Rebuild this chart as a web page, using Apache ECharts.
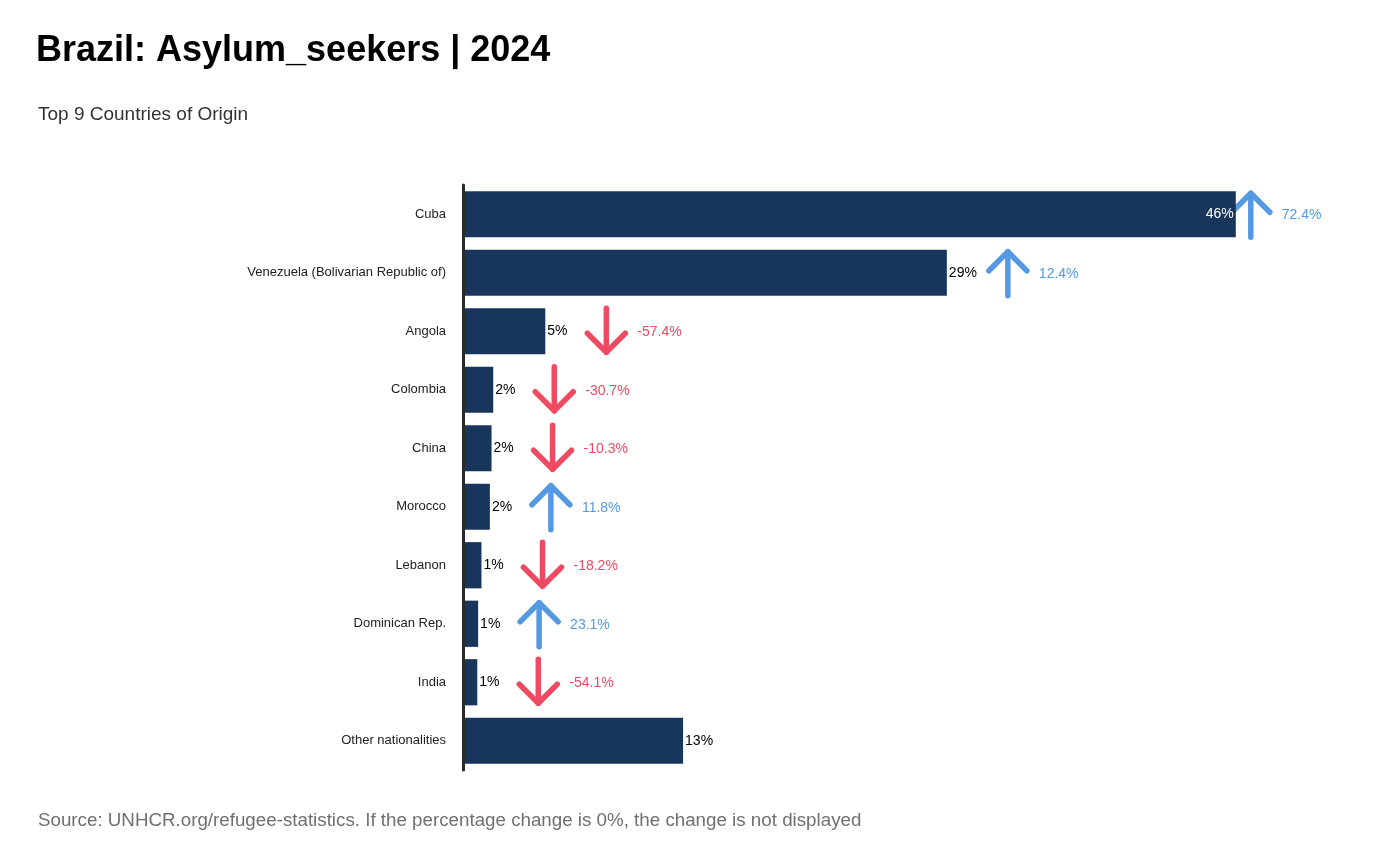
<!DOCTYPE html>
<html><head><meta charset="utf-8">
<script src="https://cdn.jsdelivr.net/npm/echarts@6/dist/echarts.min.js"></script>
<style>html,body{margin:0;padding:0;background:#fff}#c{width:1400px;height:866px}</style>
</head><body><div id="c"></div>
<script>
const categories = ["Cuba","Venezuela (Bolivarian Republic of)","Angola","Colombia","China","Morocco","Lebanon","Dominican Rep.","India","Other nationalities"];
const shares = [46.0, 28.8, 4.9, 1.8, 1.7, 1.6, 1.1, 0.9, 0.85, 13.1];
const changes = [72.4, 12.4, -57.4, -30.7, -10.3, 11.8, -18.2, 23.1, -54.1, null];

const FONT = '"Liberation Sans", Arial, sans-serif';
const maxShare = Math.max(...shares);
const BLUE = '#5499e2', RED = '#ee4a62';

const chart = echarts.init(document.getElementById('c'));
chart.setOption({
  animation: false,
  textStyle: {fontFamily: FONT},
  title: [
    {text: 'Brazil: Asylum_seekers | 2024', left: 31, top: 28, textStyle: {fontSize: 36, fontWeight: 'bold', color: '#000', fontFamily: FONT}},
    {text: 'Top 9 Countries of Origin', left: 33, top: 100, textStyle: {fontSize: 19, fontWeight: 'normal', color: '#333', fontFamily: FONT}},
    {text: 'Source: UNHCR.org/refugee-statistics. If the percentage change is 0%, the change is not displayed', left: 33, top: 806, textStyle: {fontSize: 18.75, fontWeight: 'normal', color: '#707070', fontFamily: FONT}}
  ],
  grid: {left: 463, right: 13, top: 185, bottom: 96, containLabel: false},
  xAxis: {type: 'value', min: 0, max: 55, show: false},
  yAxis: {
    type: 'category', data: categories, inverse: true,
    axisLine: {show: true, lineStyle: {color: '#2a2a2a', width: 3}},
    axisTick: {show: false},
    axisLabel: {fontSize: 13, color: '#222', margin: 17, fontFamily: FONT},
    z: 5
  },
  series: [
    {
      type: 'bar',
      data: shares.map(v => v === maxShare ? {value: v, label: {position: 'insideRight', color: '#fff', distance: 2}} : v),
      barCategoryGap: '21%',
      itemStyle: {color: '#18365c'},
      label: {
        show: true, position: 'right', distance: 2, fontSize: 14, color: '#000', fontFamily: FONT,
        formatter: p => Math.round(p.value) + '%'
      }
    },
    {
      type: 'custom',
      data: changes.map((c, i) => [shares[i], i, c]).filter(d => d[2] !== null),
      renderItem: function (params, api) {
        const v = api.value(0), idx = api.value(1), ch = api.value(2);
        const p = api.coord([v, idx]);
        const x = p[0] + (v === maxShare ? 15 : 61);
        const cy = p[1];
        const up = ch > 0;
        const col = up ? BLUE : RED;
        const st = {stroke: col, lineWidth: 5.5, lineCap: 'round', lineJoin: 'round', fill: null};
        let shaft, head;
        if (up) {
          const tip = cy - 21, tail = cy + 23;
          shaft = [[x, tip], [x, tail]];
          head = [[x - 19, tip + 19], [x, tip], [x + 19, tip + 19]];
        } else {
          const tip = cy + 21, tail = cy - 23;
          shaft = [[x, tail], [x, tip]];
          head = [[x - 19, tip - 19], [x, tip], [x + 19, tip - 19]];
        }
        return {
          type: 'group',
          children: [
            {type: 'polyline', shape: {points: shaft}, style: st},
            {type: 'polyline', shape: {points: head}, style: st},
            {type: 'text', style: {text: ch.toFixed(1) + '%', x: x + 31, y: cy + 1, textAlign: 'left', textVerticalAlign: 'middle', fontSize: 14, fill: col, fontFamily: FONT}}
          ]
        };
      }
    }
  ]
});
</script>
</body></html>
